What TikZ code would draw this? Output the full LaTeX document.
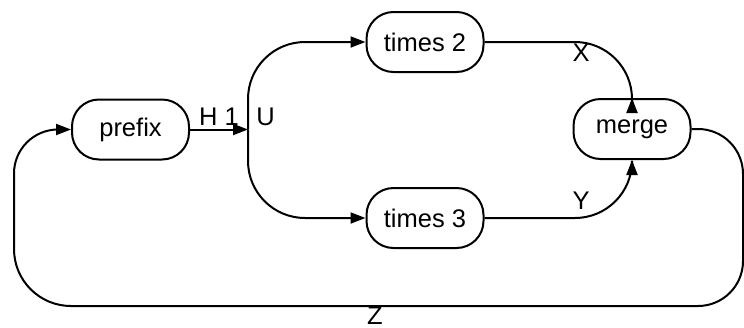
\documentclass[tikz,border=0pt]{standalone}
\usepackage{fontspec}
\setmainfont{Liberation Sans}
\usetikzlibrary{arrows.meta}
\begin{document}
\begin{tikzpicture}[x=1pt,y=-1pt,
  every node/.style={font=\fontsize{25.5}{29}\selectfont},
  box/.style={draw, line width=2pt, rounded corners=27pt, minimum width=117pt, minimum height=60pt, inner sep=0pt},
  conn/.style={line width=2pt},
  arr/.style={conn, -{Triangle[length=15pt,width=11pt]}},
  lbl/.style={inner sep=0pt}]
\useasboundingbox (0,0) rectangle (744,327);
\node[box] (p) at (130.5,129.5) {prefix};
\node[box] (t2) at (425,42) {times 2};
\node[box] (t3) at (425,218) {times 3};
\node[box] (m) at (632,129) {merge};
\coordinate (j) at (248,129.5);
\coordinate (r2) at (743,306);
\coordinate (l1) at (14,306);
\draw[arr] (p.east) -- (j);
\draw[arr, rounded corners=57] (j) |- (t2.west);
\draw[arr, rounded corners=57] (j) |- (t3.west);
\draw[arr, rounded corners=57] (t2.east) -| (m.north);
\draw[arr, rounded corners=57] (t3.east) -| (m.south);
\draw[arr, rounded corners=45] (m.east) -| (r2) [rounded corners=57] -- (l1) [rounded corners=44] |- (p.west);
\node[lbl] (lh) at (219,117) {H 1};
\node[lbl] (lu) at (265.5,117) {U};
\node[lbl] (lx) at (581,53) {X};
\node[lbl] (ly) at (581,201) {Y};
\node[lbl] (lz) at (375,316) {Z};
\end{tikzpicture}
\end{document}
